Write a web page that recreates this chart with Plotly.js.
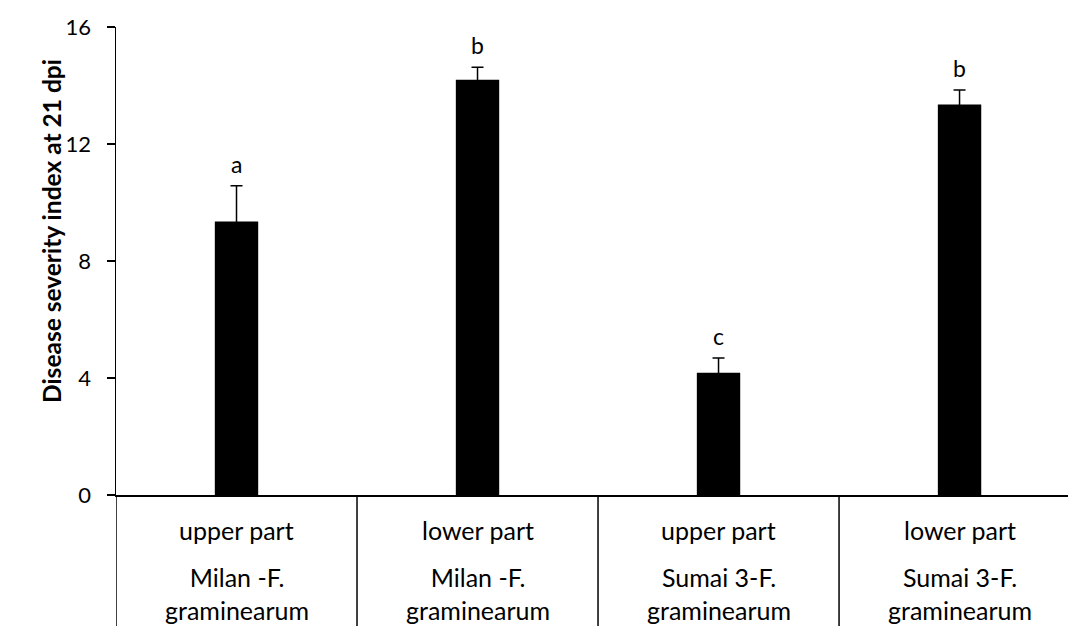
<!DOCTYPE html>
<html>
<head>
<meta charset="utf-8">
<script src="https://cdn.plot.ly/plotly-3.0.1.min.js"></script>
<style>html,body{margin:0;padding:0;overflow:hidden;background:#fff}#chart{width:1068px;height:626px}</style>
</head>
<body>
<div id="chart"></div>
<script>
// Data
const parts = ["upper part", "lower part", "upper part", "lower part"];
const genotypes = ["Milan -F.<br>graminearum", "Milan -F.<br>graminearum", "Sumai 3-F.<br>graminearum", "Sumai 3-F.<br>graminearum"];
const severity = [9.35, 14.2, 4.18, 13.35];
const stdErr = [1.22, 0.42, 0.5, 0.5];
const letters = ["a", "b", "c", "b"];
const yTicks = [0, 4, 8, 12, 16];
const yTitle = "Disease severity index at 21 dpi";

const FONT = "Lato, 'Open Sans', sans-serif";
const xIdx = parts.map((_, i) => i);

const trace = {
  type: "bar",
  x: xIdx,
  y: severity,
  width: 0.18,
  marker: {color: "#000000", line: {width: 0}},
  error_y: {type: "data", array: stdErr, visible: true, color: "#000000", thickness: 1.5, width: 6},
  hoverinfo: "skip"
};

const annotations = [];
xIdx.forEach(i => {
  annotations.push({x: i, y: severity[i] + stdErr[i], xref: "x", yref: "y", text: letters[i],
    showarrow: false, yanchor: "bottom", yshift: 6, font: {family: FONT, size: 23, color: "#000"}});
  annotations.push({x: i, y: 0, xref: "x", yref: "paper", text: parts[i], showarrow: false,
    yanchor: "middle", yshift: -35, font: {family: FONT, size: 25, color: "#000"}});
  annotations.push({x: i, y: 0, xref: "x", yref: "paper", text: genotypes[i], showarrow: false,
    yanchor: "middle", yshift: -98, font: {family: FONT, size: 25, color: "#000"}});
});
// y-axis title (placed slightly above the plot centre as in the reference)
annotations.push({x: -0.0683, y: 0.564, xref: "paper", yref: "paper", text: "<b>" + yTitle + "</b>",
  textangle: -90, showarrow: false, xanchor: "center", yanchor: "middle",
  font: {family: FONT, size: 24.5, color: "#000"}});

const shapes = [];
for (let i = 0; i <= parts.length; i++) {
  shapes.push({type: "line", xref: "x", yref: "paper", x0: i - 0.5, x1: i - 0.5, y0: 0, y1: -0.285,
    line: {color: "#000", width: 1.5}});
}

const layout = {
  width: 1068, height: 626,
  margin: {l: 116, r: 0, t: 27, b: 131},
  paper_bgcolor: "#fff", plot_bgcolor: "#fff",
  showlegend: false,
  xaxis: {type: "linear", range: [-0.5, 3.45], showticklabels: false, ticks: "", showgrid: false,
    zeroline: false, showline: true, linecolor: "#000", linewidth: 1.5, fixedrange: true},
  yaxis: {range: [0, 16], tickvals: yTicks, ticktext: yTicks.map(String), ticks: "outside", ticklen: 8,
    tickwidth: 1.5, tickcolor: "#000", showline: true, linecolor: "#000", linewidth: 1.5,
    ticklabelstandoff: 11,
    showgrid: false, zeroline: false, tickfont: {family: FONT, size: 22, color: "#000"}},
  annotations: annotations,
  shapes: shapes
};

Plotly.newPlot("chart", [trace], layout, {staticPlot: true, displayModeBar: false});
</script>
</body>
</html>
